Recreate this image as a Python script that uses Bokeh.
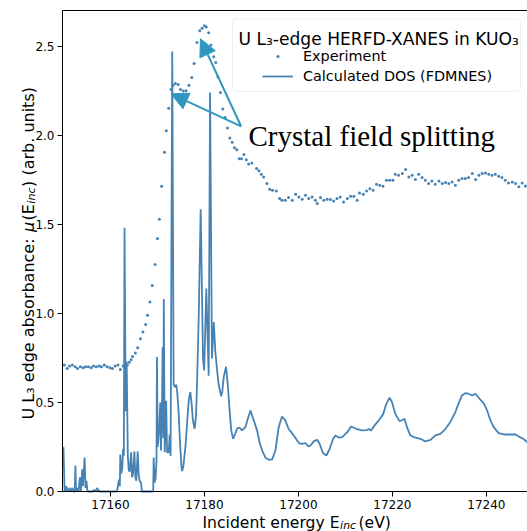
import math
from bokeh.plotting import figure
from bokeh.models import (Range1d, FixedTicker, NumeralTickFormatter, LinearAxis, Label,
                          Arrow, NormalHead, Legend, LegendItem, BoxAnnotation)
from bokeh.embed import file_html
from bokeh.resources import INLINE

# ---------------- data ----------------
exp_energy = [
    17150.2, 17150.8, 17151.3, 17151.9, 17152.5, 17153.0, 17153.6, 17154.2, 17154.7, 17155.3,
    17155.9, 17156.4, 17157.0, 17157.6, 17158.1, 17158.7, 17159.3, 17159.9, 17160.4, 17161.0,
    17161.6, 17162.1, 17162.7, 17163.3, 17163.6,
    17164.0, 17164.4, 17164.7, 17165.3, 17165.8, 17166.4, 17166.9, 17167.5, 17167.9, 17168.4,
    17168.9, 17169.5, 17170.0, 17170.4, 17170.9, 17171.5, 17171.9, 17172.4, 17172.9, 17173.3,
    17173.8, 17174.4, 17174.9, 17175.5, 17176.1, 17176.7, 17177.3, 17177.8, 17178.4, 17179.0,
    17179.5, 17180.0, 17180.4, 17180.9, 17181.4, 17181.6, 17182.0, 17182.4, 17182.85, 17183.4,
    17183.9, 17184.4, 17184.9, 17185.4, 17185.9, 17186.4, 17186.9, 17187.4, 17187.9, 17188.4,
    17188.9, 17189.4,
    17190.1, 17191.1, 17191.6, 17192.1, 17192.6, 17193.3, 17193.9, 17194.5, 17195.3, 17196.0,
    17196.5, 17197.2, 17197.9, 17198.7, 17199.4, 17200.1, 17200.8, 17201.5, 17202.2, 17202.9,
    17203.6, 17204.0, 17204.7, 17205.4, 17206.1, 17206.8, 17207.5, 17208.2, 17208.9, 17209.6,
    17210.4, 17211.1, 17211.8, 17212.5, 17213.0, 17213.8, 17214.5, 17215.2, 17215.9, 17216.6,
    17217.3, 17218.0, 17218.7, 17219.4, 17220.1, 17220.6, 17221.3, 17222.1, 17222.8, 17223.5,
    17224.2, 17224.9, 17225.6, 17226.3, 17227.0, 17227.7, 17228.4, 17229.1, 17229.9, 17230.6,
    17231.3, 17232.0, 17232.7, 17233.4, 17234.1, 17234.8, 17235.5, 17236.2, 17237.0, 17237.7,
    17238.4, 17239.1, 17239.8, 17240.5, 17241.2, 17241.9, 17242.6, 17243.3, 17244.0, 17244.7,
    17245.5, 17246.2, 17246.9, 17247.6, 17248.3,
]
exp_mu = [
    0.71, 0.69, 0.705, 0.71, 0.70, 0.69, 0.70, 0.695, 0.70, 0.70,
    0.695, 0.705, 0.70, 0.705, 0.70, 0.71, 0.70, 0.695, 0.69, 0.705,
    0.71, 0.685, 0.705, 0.71, 0.71,
    0.726, 0.74, 0.758, 0.777, 0.807, 0.858, 0.895, 0.938, 0.989, 1.064,
    1.157, 1.274, 1.42, 1.528, 1.713, 1.904, 2.025, 2.151, 2.257, 2.28,
    2.29, 2.285, 2.257, 2.248, 2.25, 2.28, 2.324, 2.403, 2.521, 2.586,
    2.60, 2.614, 2.608, 2.575, 2.506, 2.48, 2.44, 2.408, 2.328, 2.24,
    2.147, 2.10, 2.04, 1.984, 1.96, 1.93, 1.918, 1.868, 1.868, 1.892,
    1.862, 1.838,
    1.844, 1.813, 1.80, 1.781, 1.766, 1.729, 1.697, 1.691, 1.687, 1.644,
    1.635, 1.635, 1.65, 1.635, 1.669, 1.653, 1.64, 1.663, 1.644, 1.653,
    1.635, 1.616, 1.65, 1.635, 1.64, 1.639, 1.631, 1.644, 1.653, 1.625,
    1.644, 1.657, 1.657, 1.635, 1.676, 1.669, 1.687, 1.70, 1.691, 1.725,
    1.719, 1.713, 1.747, 1.747, 1.747, 1.781, 1.775, 1.785, 1.807, 1.766,
    1.775, 1.751, 1.781, 1.762, 1.747, 1.729, 1.743, 1.725, 1.743, 1.729,
    1.734, 1.729, 1.738, 1.719, 1.747, 1.757, 1.757, 1.762, 1.785, 1.751,
    1.775, 1.785, 1.788, 1.781, 1.775, 1.781, 1.77, 1.762, 1.747, 1.732,
    1.738, 1.729, 1.71, 1.732, 1.715,
]

dos_energy = [
    17150.0, 17150.25, 17150.6, 17150.85, 17151.3, 17151.5, 17151.9, 17152.1, 17152.4, 17152.55,
    17152.7, 17153.0, 17153.2, 17153.5, 17153.7, 17154.0, 17154.15, 17154.5, 17154.7, 17154.9,
    17155.1, 17156.2, 17156.45, 17156.7, 17157.2, 17157.4, 17157.5, 17157.65, 17161.4, 17161.8,
    17162.0, 17162.1, 17162.3, 17162.5, 17162.7, 17162.85, 17163.0, 17163.25, 17163.45, 17163.7,
    17163.9, 17164.1, 17164.4, 17164.6, 17164.8, 17165.1, 17165.3, 17165.5, 17165.8, 17166.0,
    17166.2, 17166.5, 17166.7, 17169.1, 17169.2, 17169.4, 17169.6, 17169.8, 17169.9, 17170.05,
    17170.2, 17170.4, 17170.6, 17170.75, 17171.0, 17171.1, 17171.25, 17171.35, 17171.55, 17171.85,
    17172.05, 17172.4, 17172.6, 17172.8, 17173.15, 17173.45, 17173.7, 17174.0, 17174.2, 17174.5,
    17174.8, 17175.1, 17175.26, 17175.5, 17175.96, 17176.4, 17176.7, 17177.0, 17177.25, 17177.55,
    17177.9, 17178.2, 17178.45, 17178.8, 17179.2, 17179.7, 17179.95, 17180.4, 17180.9, 17181.2,
    17181.6, 17182.0, 17182.3, 17182.7, 17183.0, 17183.55, 17183.8, 17184.1, 17184.6, 17184.95,
    17185.3, 17185.7, 17186.1, 17186.6, 17187.0, 17187.5, 17188.0, 17188.7, 17189.25, 17189.8,
    17190.5, 17191.2, 17191.8, 17192.3, 17193.0, 17193.7, 17194.4, 17195.1, 17195.8, 17196.5,
    17197.2, 17197.9, 17199.0, 17200.1, 17200.8, 17201.5, 17202.1, 17202.55, 17203.3, 17204.0,
    17204.5, 17205.25, 17205.95, 17206.65, 17207.4, 17207.9, 17208.6, 17209.3, 17210.4, 17211.2,
    17212.3, 17213.55, 17214.5, 17214.95, 17215.45, 17216.2, 17217.1, 17218.0, 17218.7, 17219.4,
    17219.9, 17220.6, 17221.5, 17222.05, 17222.55, 17223.1, 17223.8, 17224.9, 17225.95, 17227.0,
    17228.1, 17229.15, 17230.2, 17231.3, 17232.3, 17233.4, 17234.1, 17234.8, 17235.5, 17236.2,
    17236.95, 17237.65, 17238.35, 17239.4, 17240.15, 17240.85, 17241.55, 17242.6, 17243.7, 17245.1,
    17246.2, 17246.9, 17247.8, 17248.7, 17250.0,
]
dos_mu = [
    0.25, 0.0, 0.03, 0.0, 0.02, 0.0, 0.02, 0.0, 0.0, 0.146,
    0.0, 0.02, 0.0, 0.08, 0.0, 0.124, 0.03, 0.19, 0.02, 0.06,
    0.0, 0.0, 0.01, 0.0, 0.02, 0.0, 0.01, 0.0, 0.0, 0.066,
    0.03, 0.208, 0.10, 0.127, 0.24, 0.20, 1.48, 0.45, 0.73, 0.20,
    0.12, 0.11, 0.22, 0.08, 0.10, 0.225, 0.08, 0.06, 0.225, 0.10,
    0.06, 0.05, 0.0, 0.0, 0.19, 0.05, 0.07, 0.17, 0.755, 0.25,
    0.29, 0.37, 0.50, 0.23, 0.53, 0.81, 0.30, 1.08, 0.22, 0.51,
    0.22, 0.22, 0.32, 0.20, 2.47, 0.60, 0.586, 0.60, 0.56, 0.45,
    0.28, 0.14, 0.115, 0.14, 0.25, 0.42, 0.52, 0.558, 0.50, 0.40,
    0.352, 0.42, 0.624, 1.0, 1.584, 0.745, 0.68, 1.14, 0.65, 2.24,
    0.747, 0.951, 0.79, 0.68, 0.605, 0.535, 0.56, 0.642, 0.70, 0.605,
    0.474, 0.343, 0.296, 0.328, 0.355, 0.358, 0.343, 0.361, 0.41, 0.455,
    0.399, 0.343, 0.268, 0.23, 0.189, 0.178, 0.18, 0.23, 0.361, 0.421,
    0.399, 0.352, 0.315, 0.272, 0.268, 0.272, 0.253, 0.258, 0.283, 0.29,
    0.268, 0.215, 0.202, 0.24, 0.296, 0.315, 0.302, 0.305, 0.333, 0.365,
    0.352, 0.343, 0.345, 0.35, 0.343, 0.371, 0.399, 0.433, 0.493, 0.526,
    0.502, 0.437, 0.395, 0.40, 0.408, 0.361, 0.315, 0.302, 0.296, 0.281,
    0.29, 0.315, 0.324, 0.352, 0.389, 0.446, 0.496, 0.539, 0.552, 0.549,
    0.539, 0.549, 0.526, 0.496, 0.455, 0.399, 0.361, 0.328, 0.32, 0.32,
    0.32, 0.309, 0.296, 0.277, 0.26,
]

x_ticks = [17160, 17180, 17200, 17220, 17240]
y_ticks = [0.0, 0.5, 1.0, 1.5, 2.0, 2.5]
x_limits = (17149.8, 17248.74)
y_limits = (0.0, 2.70)

legend_title = "U L\u2083-edge HERFD-XANES in KUO\u2083"
series_labels = ["Experiment", "Calculated DOS (FDMNES)"]
annotation_text = "Crystal field splitting"
arrow_from = (17187.8, 2.05)
arrow_to = [(17172.9, 2.232), (17179.15, 2.541)]

# ---------------- layout ----------------
W, H = 527, 531
FL, FT, FB = 62, 10, 40          # where the axes sit inside the canvas (px)
X0, X1 = x_limits
Y0, Y1 = y_limits
KX = (W - FL) / (X1 - X0)        # px per eV
KY = (H - FT - FB) / (Y1 - Y0)   # px per unit
XL, XR = X0 - FL / KX, X1
YB, YT = Y0 - FB / KY, Y1 + FT / KY

BLUE = "#4682b4"
ARROW = "#2f97be"
SANS = "DejaVu Sans"


def ax(px):
    return XL + px / KX


def ay(py):
    return YT - py / KY


p = figure(width=W, height=H, x_range=Range1d(XL, XR), y_range=Range1d(YB, YT),
           output_backend="svg", toolbar_location=None,
           min_border_left=0, min_border_right=0, min_border_top=0, min_border_bottom=0)
p.outline_line_color = None
p.background_fill_color = "white"
p.border_fill_color = "white"
p.xgrid.visible = False
p.ygrid.visible = False

xa, ya = p.xaxis[0], p.yaxis[0]
xa.ticker = FixedTicker(ticks=x_ticks)
xa.formatter = NumeralTickFormatter(format="0")
xa.fixed_location = Y0
xa.bounds = (X0, X1)
ya.ticker = FixedTicker(ticks=y_ticks)
ya.formatter = NumeralTickFormatter(format="0.0")
ya.fixed_location = X0
ya.bounds = (Y0, Y1)
for a in (xa, ya):
    a.axis_line_color = "black"
    a.axis_line_width = 1
    a.major_tick_line_color = "black"
    a.major_tick_line_width = 1
    a.major_tick_in = 0
    a.major_tick_out = 5
    a.minor_tick_line_color = None
    a.major_label_text_font = SANS
    a.major_label_text_font_size = "12px"
    a.major_label_text_color = "black"
    a.major_label_standoff = 3

top = LinearAxis(ticker=FixedTicker(ticks=[]), axis_line_color="black", axis_line_width=1,
                 major_tick_line_color=None, minor_tick_line_color=None,
                 major_label_text_font_size="0px", fixed_location=Y1, bounds=(X0, X1))
p.add_layout(top, "above")

r_exp = p.scatter(exp_energy, exp_mu, size=3, color=BLUE, line_color=None, marker="circle")
r_dos = p.line(dos_energy, dos_mu, line_width=1.8, color=BLUE)

# arrows and annotation text
for (xe, ye) in arrow_to:
    p.add_layout(Arrow(x_start=arrow_from[0], y_start=arrow_from[1], x_end=xe, y_end=ye,
                       line_color=ARROW, line_width=2,
                       end=NormalHead(size=17, fill_color=ARROW, line_color=ARROW, line_width=1)))
p.add_layout(Label(x=ax(248), y=ay(135.5), text=annotation_text, text_font="Liberation Serif",
                   text_font_size="29px", text_color="black", text_baseline="alphabetic"))

# legend box + title + items
p.add_layout(BoxAnnotation(left=ax(232), right=ax(520), top=ay(18.3), bottom=ay(91),
                           fill_color="white", fill_alpha=0.8, line_color="#cccccc",
                           line_width=1, border_radius=4))
p.add_layout(Label(x=ax(238), y=ay(38.3), text=legend_title, text_font=SANS,
                   text_font_size="17.1px", text_color="black", text_baseline="alphabetic"))
common = dict(glyph_width=31, label_standoff=10, spacing=0, padding=0, margin=0,
              border_line_color=None, background_fill_alpha=0,
              label_text_font=SANS, label_text_font_size="14.4px", label_text_color="black")
leg_exp = Legend(items=[LegendItem(label=series_labels[0], renderers=[r_exp])],
                 location=(262, H - 64), glyph_height=8, label_height=8, **common)
leg_dos = Legend(items=[LegendItem(label=series_labels[1], renderers=[r_dos])],
                 location=(262, H - 86), glyph_height=20, label_height=20, **common)
p.add_layout(leg_exp)
p.add_layout(leg_dos)

# axis labels built from pieces (sub/italic parts), laid end to end
FY, FYS = "16px", "11.2px"
ylab = [("U L\u2083 edge absorbance: ", 419, FY, "normal", 28),
        ("\u03bc", 231.5, FY, "italic", 28),
        ("(E", 220, FY, "normal", 28),
        ("inc", 203.2, FYS, "italic", 31),
        (") (arb. units)", 186.4, FY, "normal", 28)]
for txt, py, fs, st, px in ylab:
    p.add_layout(Label(x=ax(px), y=ay(py), text=txt, angle=math.pi / 2, text_font=SANS,
                       text_font_size=fs, text_font_style=st, text_color="black",
                       text_align="left", text_baseline="alphabetic"))
FX, FXS = "15.6px", "10.9px"
xlab = [("Incident energy E", 202, FX, "normal", 522),
        ("inc", 339.6, FXS, "italic", 524.5),
        (" (eV)", 358, FX, "normal", 522)]
for txt, px, fs, st, py in xlab:
    p.add_layout(Label(x=ax(px), y=ay(py), text=txt, text_font=SANS, text_font_size=fs,
                       text_font_style=st, text_color="black", text_align="left",
                       text_baseline="alphabetic"))

open("out.html", "w").write(file_html(p, INLINE))
